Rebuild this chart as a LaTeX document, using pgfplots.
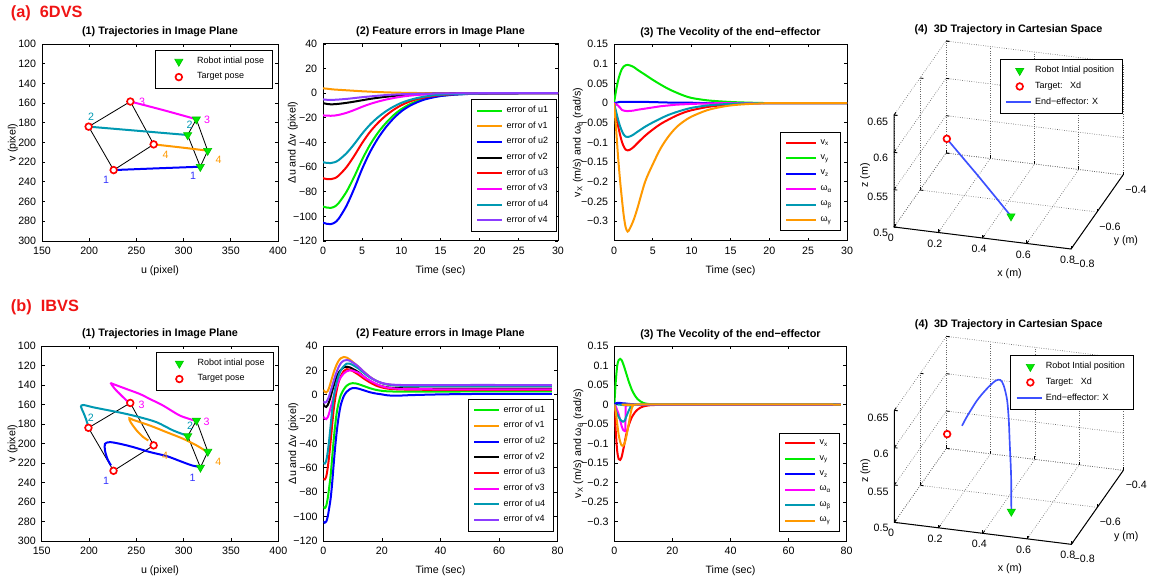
\documentclass[border=0pt]{standalone}
\usepackage{fontspec}
\setmainfont{Liberation Sans}
\usepackage{pgfplots}
\pgfplotsset{compat=1.18}

\definecolor{mgreen}{RGB}{0,235,0}
\definecolor{morange}{RGB}{255,153,0}
\definecolor{mblue}{RGB}{0,0,255}
\definecolor{mred}{RGB}{255,0,0}
\definecolor{mmag}{RGB}{255,0,255}
\definecolor{mteal}{RGB}{0,153,178}
\definecolor{mpurple}{RGB}{140,60,255}
\definecolor{rowred}{RGB}{240,20,20}
\definecolor{trajblue}{RGB}{60,80,255}

\tikzset{lbl/.style={font=\fontsize{6.4}{7}\selectfont}}

\pgfplotsset{
  every axis title shift=0pt,
  mat/.style={
    scale only axis,
    axis line style={line width=0.6pt},
    tick style={black, line width=0.5pt},
    major tick length=2pt,
    tick align=inside,
    tick label style={font=\fontsize{6.4}{7}\selectfont},
    label style={font=\fontsize{6.4}{7}\selectfont},
    title style={font=\bfseries\fontsize{6.5}{7.5}\selectfont, at={(0.5,1)}, anchor=south, yshift=0.5pt},
    legend style={font=\fontsize{5.4}{6.2}\selectfont, draw=black, line width=0.6pt, fill=white},
    legend cell align=left,
  },
  ylab/.style={ylabel style={at={(axis description cs:#1,0.5)}, anchor=center}},
  cv/.style={line width=1.2pt, smooth},
  quad/.style={black, line width=0.5pt},
  tri/.style={only marks, mark=triangle*, mark size=2.8pt,
    mark options={rotate=180, fill=mgreen, draw=mgreen!85!black, line width=0.4pt}},
  ring/.style={only marks, mark=*, mark size=2pt,
    mark options={draw=mred, fill=white, line width=1pt}},
  markleg/.style={legend image code/.code={\path[draw=none] (0pt,0pt) -- (#1,0pt);
    \draw[##1] plot coordinates {(0.55*#1,0pt)};}},
  lineleg/.style={legend image code/.code={\draw[##1] (0pt,0pt) -- (15pt,0pt);}},
  img/.style={mat, xmin=150, xmax=400, ymin=100, ymax=300, y dir=reverse,
    xtick={150,200,250,300,350,400}, ytick={100,120,140,160,180,200,220,240,260,280,300},
    xticklabels={150,200,250,300,350,400},
    yticklabels={100,120,140,160,180,200,220,240,260,280,300},
    title={(1) Trajectories in Image Plane}, xlabel={u (pixel)}, ylabel={v (pixel)},
    ylab=-0.123, markleg=20pt,
    legend style={anchor=north east, inner xsep=3pt}},
  err/.style={mat, ymin=-120, ymax=40, ytick={-120,-100,-80,-60,-40,-20,0,20,40},
    yticklabels={−120,−100,−80,−60,−40,−20,0,20,40},
    title={(2) Feature errors in Image Plane}, xlabel={Time (sec)}, ylabel={Δu and Δv (pixel)},
    ylab=-0.128,
    legend style={anchor=south east},
    legend image code/.code={\draw[##1] (0pt,0pt) -- (15pt,0pt);}},
  vel/.style={mat, ymin=-0.35, ymax=0.15,
    ytick={-0.3,-0.25,-0.2,-0.15,-0.1,-0.05,0,0.05,0.1,0.15},
    yticklabels={−0.3,−0.25,−0.2,−0.15,−0.1,−0.05,0,0.05,0.1,0.15},
    title={(3) The Vecolity of the end−effector}, xlabel={Time (sec)},
    ylabel={v\textsubscript{X} (m/s) and ω\textsubscript{θ} (rad/s)},
    ylab=-0.155,
    legend style={anchor=south east, row sep=0.9pt},
    legend image code/.code={\draw[##1] (0pt,0pt) -- (18pt,0pt);}},
  cart/.style={mat, clip=false,
    x={(132.75pt,-16.5pt)}, y={(78pt,111pt)}, z={(0pt,448pt)},
    xmin=0, xmax=0.8, ymin=-0.8, ymax=-0.4, zmin=0.5, zmax=0.65,
    xtick={0,0.2,0.4,0.6,0.8}, ytick={-0.8,-0.6,-0.4}, ztick={0.5,0.55,0.6,0.65},
    xticklabels={0,0.2,0.4,0.6,0.8}, yticklabels={−0.8,−0.6,−0.4},
    zticklabels={0.5,0.55,0.6,0.65},
    tick pos=left,
    grid=major, grid style={densely dotted, black!60, line width=0.4pt},
    axis line style={draw=none},
    title={(4)\ \ 3D Trajectory in Cartesian Space},
    xlabel={x (m)}, ylabel={y (m)}, zlabel={z (m)},
    xlabel style={xshift=23pt},
    ylabel style={xshift=-6pt, yshift=9pt},
    zlabel style={xshift=9pt, yshift=-9pt},
    markleg=15pt,
    legend style={anchor=north east}},
}

\begin{document}
\begin{tikzpicture}

% ---------- row (a) 6DVS ----------
\begin{axis}[img, at={(25.2pt,203.4pt)}, anchor=south west, width=141.6pt, height=118.2pt,
  legend style={at={(0.979,0.97)}}]
\addplot[quad, forget plot] coordinates {(225.9,228) (199.4,183.9) (243.6,158.4) (268.3,201.9) (225.9,228)};
\addplot[quad, forget plot] coordinates {(317.7,224.6) (304.3,192.4) (313.5,176.4) (325.5,208.3) (317.7,224.6)};
\addplot[cv, mblue, forget plot] coordinates {(317.7,224.6) (270,226.3) (225.9,228)};
\addplot[cv, mteal, forget plot] coordinates {(304.3,192.4) (250,188) (199.4,183.9)};
\addplot[cv, mmag, forget plot] coordinates {(313.5,176.4) (280,167.5) (243.6,158.4)};
\addplot[cv, morange, forget plot] coordinates {(325.5,208.3) (297,205) (268.3,201.9)};
\addplot[tri] coordinates {(317.7,224.6) (304.3,192.4) (313.5,176.4) (325.5,208.3)};
\addplot[ring] coordinates {(225.9,228) (199.4,183.9) (243.6,158.4) (268.3,201.9)};
\legend{Robot intial pose, Target pose}
\node[lbl, text=mblue!80!white] at (axis cs:218,238) {1};
\node[lbl, text=mblue!80!white] at (axis cs:310,234) {1};
\node[lbl, text=mteal] at (axis cs:202,174) {2};
\node[lbl, text=mteal] at (axis cs:306.4,182) {2};
\node[lbl, text=mmag] at (axis cs:256,159) {3};
\node[lbl, text=mmag] at (axis cs:325,177) {3};
\node[lbl, text=morange] at (axis cs:281,213) {4};
\node[lbl, text=morange] at (axis cs:337,218) {4};
\end{axis}

\begin{axis}[err, at={(193.8pt,203.4pt)}, anchor=south west, width=141pt, height=118.2pt,
  xmin=0, xmax=30, xtick={0,5,10,15,20,25,30}, xticklabels={0,5,10,15,20,25,30},
  legend style={at={(0.996,0.046)}}]
\addplot[cv, mgreen] coordinates {(0,-92)(0.5,-92.9)(1,-93.1)(1.5,-92)(2,-89.2)(3,-80)(4,-67.6)(5,-53.8)(6,-41.9)(7,-32.2)(8,-24.4)(9,-17.9)(10,-12.9)(11,-9.2)(12,-6.4)(13,-4.4)(14,-3)(15,-2)(17,-0.9)(20,-0.3)(25,0)(30,0)};
\addplot[cv, morange] coordinates {(0,4)(0.5,3.7)(1,3.3)(1.5,3)(2,2.8)(3,2.4)(4,2)(5,1.6)(6,1.3)(7,1)(8,0.75)(9,0.55)(10,0.4)(11,0.3)(12,0.2)(13,0.15)(14,0.1)(15,0.07)(17,0.03)(20,0.01)(25,0)(30,0)};
\addplot[cv, mblue] coordinates {(0,-105)(0.5,-106.1)(1,-106.3)(1.5,-105)(2,-101.9)(3,-91.4)(4,-77.2)(5,-61.4)(6,-47.8)(7,-36.8)(8,-27.8)(9,-20.5)(10,-14.7)(11,-10.5)(12,-7.4)(13,-5)(14,-3.5)(15,-2.3)(17,-1.1)(20,-0.3)(25,0)(30,0)};
\addplot[cv, black] coordinates {(0,-8)(0.5,-8.7)(1,-9)(1.5,-8.9)(2,-8.6)(3,-7.8)(4,-6.8)(5,-5.7)(6,-4.6)(7,-3.7)(8,-2.9)(9,-2.2)(10,-1.6)(11,-1.2)(12,-0.9)(13,-0.6)(14,-0.4)(15,-0.3)(17,-0.15)(20,-0.05)(25,0)(30,0)};
\addplot[cv, mred] coordinates {(0,-69)(0.5,-69.7)(1,-69.8)(1.5,-69)(2,-66.9)(3,-60)(4,-50.7)(5,-40.4)(6,-31.4)(7,-24.2)(8,-18.3)(9,-13.5)(10,-9.7)(11,-6.9)(12,-4.8)(13,-3.3)(14,-2.3)(15,-1.5)(17,-0.7)(20,-0.2)(25,0)(30,0)};
\addplot[cv, mmag] coordinates {(0,-18)(0.5,-18.2)(1,-18.3)(1.5,-18.1)(2,-17.6)(3,-15.9)(4,-13.6)(5,-11)(6,-8.7)(7,-6.8)(8,-5.2)(9,-3.9)(10,-2.8)(11,-2)(12,-1.4)(13,-1)(14,-0.7)(15,-0.5)(17,-0.2)(20,-0.05)(25,0)(30,0)};
\addplot[cv, mteal] coordinates {(0,-56)(0.5,-56.6)(1,-56.7)(1.5,-56)(2,-54.3)(3,-48.7)(4,-41.2)(5,-32.8)(6,-25.5)(7,-19.6)(8,-14.8)(9,-10.9)(10,-7.8)(11,-5.6)(12,-3.9)(13,-2.7)(14,-1.8)(15,-1.2)(17,-0.6)(20,-0.2)(25,0)(30,0)};
\addplot[cv, mpurple] coordinates {(0,-5)(0.5,-5.3)(1,-5.4)(1.5,-5.3)(2,-5.1)(3,-4.6)(4,-3.9)(5,-3.2)(6,-2.6)(7,-2)(8,-1.5)(9,-1.1)(10,-0.8)(11,-0.6)(12,-0.4)(13,-0.3)(14,-0.2)(15,-0.12)(17,-0.05)(20,0)(25,0)(30,0)};
\legend{error of u1, error of v1, error of u2, error of v2, error of u3, error of v3, error of u4, error of v4}
\end{axis}

\begin{axis}[vel, at={(368.4pt,203.4pt)}, anchor=south west, width=139.8pt, height=118.2pt,
  xmin=0, xmax=30, xtick={0,5,10,15,20,25,30}, xticklabels={0,5,10,15,20,25,30},
  legend style={at={(0.974,0.05)}}]
\addplot[cv, mred] coordinates {(0,0)(0.25,-0.03)(0.5,-0.055)(0.75,-0.078)(1,-0.097)(1.25,-0.11)(1.5,-0.118)(1.75,-0.12)(2,-0.119)(2.5,-0.112)(3,-0.102)(4,-0.083)(5,-0.067)(6,-0.053)(7,-0.042)(8,-0.032)(9,-0.024)(10,-0.018)(12,-0.01)(14,-0.005)(16,-0.002)(20,0)(25,0)(30,0)};
\addplot[cv, mgreen] coordinates {(0,0)(0.25,0.03)(0.5,0.055)(0.75,0.073)(1,0.086)(1.25,0.093)(1.5,0.096)(1.75,0.097)(2,0.096)(2.5,0.092)(3,0.085)(4,0.072)(5,0.059)(6,0.047)(7,0.036)(8,0.027)(9,0.019)(10,0.013)(12,0.007)(14,0.004)(16,0.002)(20,0)(25,0)(30,0)};
\addplot[cv, mblue] coordinates {(0,0)(0.25,0.001)(0.5,0.002)(0.75,0.003)(1,0.003)(2,0.003)(4,0.003)(6,0.002)(8,0.001)(10,0.001)(12,0)(20,0)(30,0)};
\addplot[cv, mmag] coordinates {(0,0)(0.25,-0.003)(0.5,-0.006)(0.75,-0.011)(1,-0.017)(1.25,-0.019)(1.5,-0.02)(2,-0.02)(2.5,-0.019)(3,-0.017)(4,-0.014)(5,-0.011)(6,-0.008)(7,-0.006)(8,-0.004)(9,-0.003)(10,-0.002)(12,-0.001)(14,0)(20,0)(30,0)};
\addplot[cv, mteal] coordinates {(0,0)(0.25,-0.02)(0.5,-0.04)(0.75,-0.057)(1,-0.07)(1.25,-0.08)(1.5,-0.085)(1.75,-0.086)(2,-0.085)(2.5,-0.08)(3,-0.073)(4,-0.06)(5,-0.049)(6,-0.039)(7,-0.03)(8,-0.023)(9,-0.017)(10,-0.012)(12,-0.006)(14,-0.003)(16,-0.001)(20,0)(25,0)(30,0)};
\addplot[cv, morange] coordinates {(0,0)(0.25,-0.06)(0.5,-0.13)(0.75,-0.19)(1,-0.24)(1.25,-0.285)(1.5,-0.315)(1.75,-0.326)(2,-0.32)(2.5,-0.298)(3,-0.268)(4,-0.2)(5,-0.155)(6,-0.115)(7,-0.085)(8,-0.062)(9,-0.046)(10,-0.034)(12,-0.018)(14,-0.009)(16,-0.004)(20,0)(25,0)(30,0)};
\legend{v\textsubscript{x}, v\textsubscript{y}, v\textsubscript{z}, ω\textsubscript{α}, ω\textsubscript{β}, ω\textsubscript{γ}}
\end{axis}

\begin{axis}[cart, at={(536.4pt,198.6pt)}, anchor=south west,
  legend style={at={(1.0,0.913)}}]
\addplot3[line width=1pt, trajblue, forget plot] coordinates {(0.47,-0.7,0.507) (0.4,-0.7,0.53) (0.32,-0.7,0.556) (0.25,-0.7,0.578) (0.18,-0.7,0.6)};
\addplot3[tri] coordinates {(0.47,-0.7,0.507)};
\addplot3[ring] coordinates {(0.18,-0.7,0.6)};
\addlegendimage{line width=1pt, trajblue, lineleg}
\legend{Robot Intial position, Target:\ \ \ Xd, End−effector: X}
\draw[line width=0.6pt] (axis cs:0,-0.8,0.65) -- (axis cs:0,-0.8,0.5) -- (axis cs:0.8,-0.8,0.5) -- (axis cs:0.8,-0.4,0.5);
\end{axis}

% ---------- row (b) IBVS ----------
\begin{axis}[img, at={(25pt,23.4pt)}, anchor=south west, width=142pt, height=117pt,
  legend style={at={(0.98,0.97)}}]
\addplot[quad, forget plot] coordinates {(225.9,228) (199.4,183.9) (243.6,158.4) (268.3,201.9) (225.9,228)};
\addplot[quad, forget plot] coordinates {(317.7,224.6) (304.3,192.4) (313.5,176.4) (325.5,208.3) (317.7,224.6)};
\addplot[cv, mblue, forget plot] coordinates {(317.3,224.1) (308.5,222.4) (296.1,218) (282,212.9) (264.4,208.8) (246.8,203.7) (232.7,200.3) (222.2,198.6) (216.9,200.3) (216.9,207.1) (219.4,215.6) (223.2,222.4)};
\addplot[cv, mteal, forget plot] coordinates {(303.2,191.8) (289.1,186.7) (271.5,178.2) (253.9,173.1) (236.3,169) (218.7,165.6) (204.6,162.9) (194,160.5) (191.5,162.2) (194,168) (196.8,174.8) (198.6,180.6)};
\addplot[cv, mmag, forget plot] coordinates {(312,176.5) (296.1,171.4) (278.5,161.2) (264.4,154.4) (253.9,149.3) (239.8,144.2) (225.7,139.1) (223.2,138.4) (227.5,144.2) (232.7,149.3) (238,154.4) (241.5,157.8)};
\addplot[cv, morange, forget plot] coordinates {(325,208.8) (313.7,202) (299.6,195.2) (282,188.4) (264.4,181.6) (246.8,175.8) (242.6,174.1) (244,178.2) (250.4,186.7) (257.4,193.5) (262.7,196.9)};
\addplot[tri] coordinates {(317.7,224.6) (304.3,192.4) (313.5,176.4) (325.5,208.3)};
\addplot[ring] coordinates {(225.9,228) (199.4,183.9) (243.6,158.4) (268.3,201.9)};
\legend{Robot intial pose, Target pose}
\node[lbl, text=mblue!80!white] at (axis cs:218,238) {1};
\node[lbl, text=mblue!80!white] at (axis cs:309.5,235) {1};
\node[lbl, text=mteal] at (axis cs:202,174) {2};
\node[lbl, text=mteal] at (axis cs:306.7,181.6) {2};
\node[lbl, text=mmag] at (axis cs:255.6,160.2) {3};
\node[lbl, text=mmag] at (axis cs:324.3,177.5) {3};
\node[lbl, text=morange] at (axis cs:280.3,212.2) {4};
\node[lbl, text=morange] at (axis cs:336.6,219) {4};
\end{axis}

\begin{axis}[err, at={(194pt,23.4pt)}, anchor=south west, width=140.6pt, height=117pt,
  xmin=0, xmax=80, xtick={0,20,40,60,80}, xticklabels={0,20,40,60,80},
  legend style={at={(0.984,0.048)}}]
\addplot[cv, mgreen] coordinates {(0,-92)(0.5,-93)(1,-91)(1.5,-85)(2,-76)(2.5,-66)(3,-52)(3.5,-38)(4,-26)(4.5,-16)(5,-9)(5.5,-4)(6,0)(7,4.5)(8,7.5)(9,9)(10,9.5)(11,9.3)(12,8.7)(14,7)(16,5.3)(18,4)(20,3.2)(22,2.8)(25,2.6)(30,2.5)(40,2.6)(50,2.7)(60,2.8)(70,2.8)(78,2.8)};
\addplot[cv, morange] coordinates {(0,4)(0.5,2.5)(1,1.8)(1.5,3)(2,6)(2.5,10)(3,14)(3.5,18)(4,21.5)(4.5,24.5)(5,27)(5.5,28.8)(6,30)(7,31)(8,30.5)(9,29)(10,27)(11,25)(12,23)(14,18.5)(16,14.5)(18,11.5)(20,9.5)(22,8.4)(25,7.7)(30,7.3)(40,7.3)(50,7.4)(60,7.5)(70,7.5)(78,7.5)};
\addplot[cv, mblue] coordinates {(0,-104)(0.5,-105)(1,-104)(1.5,-100)(2,-93)(2.5,-85)(3,-73)(3.5,-58)(4,-44)(4.5,-32)(5,-22)(5.5,-14)(6,-8)(7,-1)(8,2.5)(9,4.5)(10,5.5)(11,5.5)(12,5)(14,3.5)(16,2)(18,1)(20,0.3)(22,-0.5)(25,-0.8)(30,-0.3)(40,0.3)(50,0.6)(60,0.8)(70,0.8)(78,0.8)};
\addplot[cv, black] coordinates {(0,-8)(0.5,-9.5)(1,-10)(1.5,-8.5)(2,-5.5)(2.5,-1.5)(3,3)(3.5,7)(4,11)(4.5,14.5)(5,17)(5.5,19)(6,20.5)(7,22.5)(8,23)(9,22.5)(10,21.3)(11,20)(12,18.5)(14,14.5)(16,11)(18,8.5)(20,7)(22,6)(25,5.5)(30,5.2)(40,5)(50,5)(60,5)(70,5)(78,5)};
\addplot[cv, mred] coordinates {(0,-69)(0.5,-69.5)(1,-67)(1.5,-60)(2,-50)(2.5,-38)(3,-25)(3.5,-13)(4,-4)(4.5,3)(5,8.5)(5.5,12.5)(6,15.5)(7,19.5)(8,21)(9,20.5)(10,19.5)(11,18)(12,16.5)(14,13)(16,10)(18,7.5)(20,6)(22,5)(25,4.5)(30,4.2)(40,4)(50,4)(60,4)(70,4)(78,4)};
\addplot[cv, mmag] coordinates {(0,-18)(0.5,-19.5)(1,-20)(1.5,-18.5)(2,-15)(2.5,-10.5)(3,-6)(3.5,-1.5)(4,2.5)(4.5,6.5)(5,10)(5.5,12.5)(6,14.5)(7,17.5)(8,19.3)(9,20)(10,19.8)(11,19)(12,18)(14,14.5)(16,11.5)(18,9)(20,7)(22,5.8)(25,5)(30,4.6)(40,4.5)(50,4.5)(60,4.5)(70,4.5)(78,4.5)};
\addplot[cv, mteal] coordinates {(0,-56)(0.5,-56.5)(1,-54)(1.5,-47)(2,-37)(2.5,-25)(3,-13)(3.5,-3)(4,4.5)(4.5,10)(5,14)(5.5,17.5)(6,20)(7,23.5)(8,25.5)(9,25.5)(10,24.5)(11,23)(12,21.5)(14,17.5)(16,14)(18,11.5)(20,9.5)(22,8.3)(25,7.5)(30,7.2)(40,7)(50,7)(60,7)(70,7)(78,7)};
\addplot[cv, mpurple] coordinates {(0,-5.5)(0.5,-6.5)(1,-6)(1.5,-4)(2,-1)(2.5,3)(3,7)(3.5,11)(4,15)(4.5,18.5)(5,21.5)(5.5,24)(6,26)(7,28)(8,28.5)(9,28)(10,26.5)(11,25)(12,23)(14,18.5)(16,14.5)(18,11.5)(20,9.7)(22,8.7)(25,8.1)(30,7.9)(40,7.9)(50,8)(60,8)(70,8)(78,8)};
\legend{error of u1, error of v1, error of u2, error of v2, error of u3, error of v3, error of u4, error of v4}
\end{axis}

\begin{axis}[vel, at={(368.6pt,23.4pt)}, anchor=south west, width=139.4pt, height=117pt,
  xmin=0, xmax=80, xtick={0,20,40,60,80}, xticklabels={0,20,40,60,80},
  legend style={at={(0.971,0.048)}}]
\addplot[cv, mred] coordinates {(0,0)(0.5,-0.07)(1,-0.12)(1.5,-0.14)(2,-0.142)(2.5,-0.135)(3,-0.118)(3.5,-0.1)(4,-0.08)(4.5,-0.065)(5,-0.052)(5.5,-0.042)(6,-0.033)(7,-0.021)(8,-0.013)(9,-0.008)(10,-0.005)(12,-0.002)(15,-0.001)(20,0)(30,0)(40,0)(50,0)(60,0)(70,0)(78,0)};
\addplot[cv, mgreen] coordinates {(0,0)(0.5,0.06)(1,0.1)(1.5,0.114)(2,0.117)(2.5,0.114)(3,0.105)(3.5,0.094)(4,0.082)(4.5,0.07)(5,0.058)(5.5,0.048)(6,0.038)(7,0.024)(8,0.014)(9,0.008)(10,0.004)(12,0.001)(15,0)(20,0)(30,0)(40,0)(50,0)(60,0)(70,0)(78,0)};
\addplot[cv, mblue] coordinates {(0,0)(0.5,0.003)(1,0.004)(2,0.004)(3,0.003)(4,0.0025)(5,0.0015)(6,0.001)(7,0.0005)(8,0)(20,0)(40,0)(60,0)(78,0)};
\addplot[line width=1.2pt, mmag] coordinates {(0,0)(0.5,-0.005)(1,-0.015)(1.5,-0.025)(2,-0.04)(2.5,-0.055)(3,-0.065)(3.5,-0.068)(3.8,-0.068)(3.9,-0.005)(4.5,0)(78,0)};
\addplot[cv, mteal] coordinates {(0,0)(0.5,-0.015)(1,-0.025)(1.5,-0.032)(2,-0.038)(2.5,-0.042)(3,-0.044)(3.5,-0.042)(4,-0.033)(4.5,-0.024)(5,-0.015)(5.5,-0.008)(6,-0.003)(7,0)(78,0)};
\addplot[cv, morange] coordinates {(0,0)(0.5,-0.02)(1,-0.05)(1.5,-0.078)(2,-0.095)(2.5,-0.105)(3,-0.106)(3.5,-0.1)(4,-0.087)(4.5,-0.068)(5,-0.048)(5.5,-0.027)(6,-0.01)(6.5,-0.002)(7,0)(78,0)};
\legend{v\textsubscript{x}, v\textsubscript{y}, v\textsubscript{z}, ω\textsubscript{α}, ω\textsubscript{β}, ω\textsubscript{γ}}
\end{axis}

\begin{axis}[cart, at={(536.6pt,21.4pt)}, anchor=south west,
  legend style={at={(1.045,0.91)}}]
\addplot3[line width=1pt, trajblue, smooth, forget plot] coordinates {(0.47,-0.7,0.507) (0.469,-0.7,0.554) (0.451,-0.68,0.593) (0.429,-0.65,0.616) (0.392,-0.6,0.629) (0.353,-0.56,0.637) (0.332,-0.55,0.641) (0.31,-0.55,0.639) (0.278,-0.56,0.63) (0.245,-0.58,0.618) (0.211,-0.6,0.6) (0.2,-0.62,0.592)};
\addplot3[tri] coordinates {(0.47,-0.7,0.507)};
\addplot3[ring] coordinates {(0.18,-0.7,0.6)};
\addlegendimage{line width=1pt, trajblue, lineleg}
\legend{Robot Intial position, Target:\ \ \ Xd, End−effector: X}
\draw[line width=0.6pt] (axis cs:0,-0.8,0.65) -- (axis cs:0,-0.8,0.5) -- (axis cs:0.8,-0.8,0.5) -- (axis cs:0.8,-0.4,0.5);
\end{axis}

\node[anchor=west, text=rowred, font=\bfseries\fontsize{9.8}{11}\selectfont] at (3pt,340.2pt) {(a)\ \ 6DVS};
\node[anchor=west, text=rowred, font=\bfseries\fontsize{9.8}{11}\selectfont] at (3pt,163.8pt) {(b)\ \ IBVS};

\pgfresetboundingbox
\path[use as bounding box] (0pt,0pt) rectangle (690pt,348pt);
\end{tikzpicture}
\end{document}
